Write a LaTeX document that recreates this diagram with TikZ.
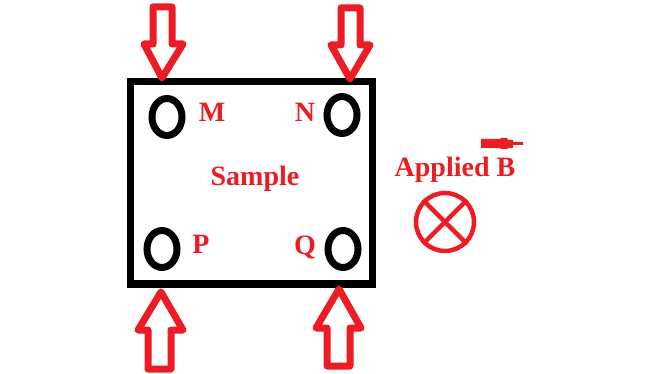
\documentclass[tikz,border=0pt]{standalone}
\usepackage{fontspec}
\setmainfont{Liberation Serif}
\usetikzlibrary{shapes.geometric}
\definecolor{redm}{HTML}{ED1C24}
\tikzset{
  x=1pt,y=-1pt,
  contact/.style={ellipse,draw=black,line width=7pt,minimum width=30pt,minimum height=37pt,inner sep=0pt},
  lbl/.style={text=redm,font=\fontsize{28}{28}\selectfont\bfseries,inner sep=0pt,anchor=base},
  hollow/.style={draw=redm,line width=7pt,line join=round,fill=white},
  samplebox/.style={draw=black,line width=7.5pt,line join=miter},
}
\begin{document}
\begin{tikzpicture}[x=1pt,y=-1pt]
\useasboundingbox (0,0) rectangle (645,374);
\fill[white] (0,0) rectangle (645,374);
% sample
\draw[samplebox] (130.5,81.5) rectangle (372.5,284);
% contacts
\node[contact] (cm) at (167,117) {};
\node[contact] (cn) at (342,115) {};
\node[contact] (cp) at (162,249) {};
\node[contact] (cq) at (343,249) {};
% current arrows
\draw[hollow] (153,7) -- (172,7) -- (172,44) -- (183,44) -- (162,78) -- (144,44) -- (153,44) -- cycle;
\draw[hollow] (341,8) -- (360,8) -- (360,45) -- (370,45) -- (350,79) -- (331,45) -- (341,45) -- cycle;
\draw[hollow] (148,369) -- (171,369) -- (171,330) -- (183,330) -- (161,292) -- (138,330) -- (148,330) -- cycle;
\draw[hollow] (327,366) -- (350,366) -- (350,328) -- (361,328) -- (339,289) -- (316,328) -- (327,328) -- cycle;
% labels
\node[lbl] (lm) at (212,122) {M};
\node[lbl] (ln) at (305,122) {N};
\node[lbl] (lp) at (201,253) {P};
\node[lbl] (lq) at (305,254) {Q};
\node[lbl] (ls) at (255,186) {Sample};
\node[lbl] (la) at (455,177) {Applied B};
% field arrow
\fill[redm] (481,139) -- (500,139) -- (501,138) -- (507,138) -- (508,140) -- (513,140) -- (513,142) -- (523,142) -- (523,145) -- (513,145) -- (513,148) -- (508,148) -- (507,149) -- (501,149) -- (500,148) -- (481,148) -- cycle;
% field symbol
\node[circle,draw=redm,line width=4.5pt,minimum size=58pt,inner sep=0pt] (bf) at (445,222) {};
\draw[redm,line width=4.5pt] (bf.north west) -- (bf.south east);
\draw[redm,line width=4.5pt] (bf.north east) -- (bf.south west);
\end{tikzpicture}
\end{document}
